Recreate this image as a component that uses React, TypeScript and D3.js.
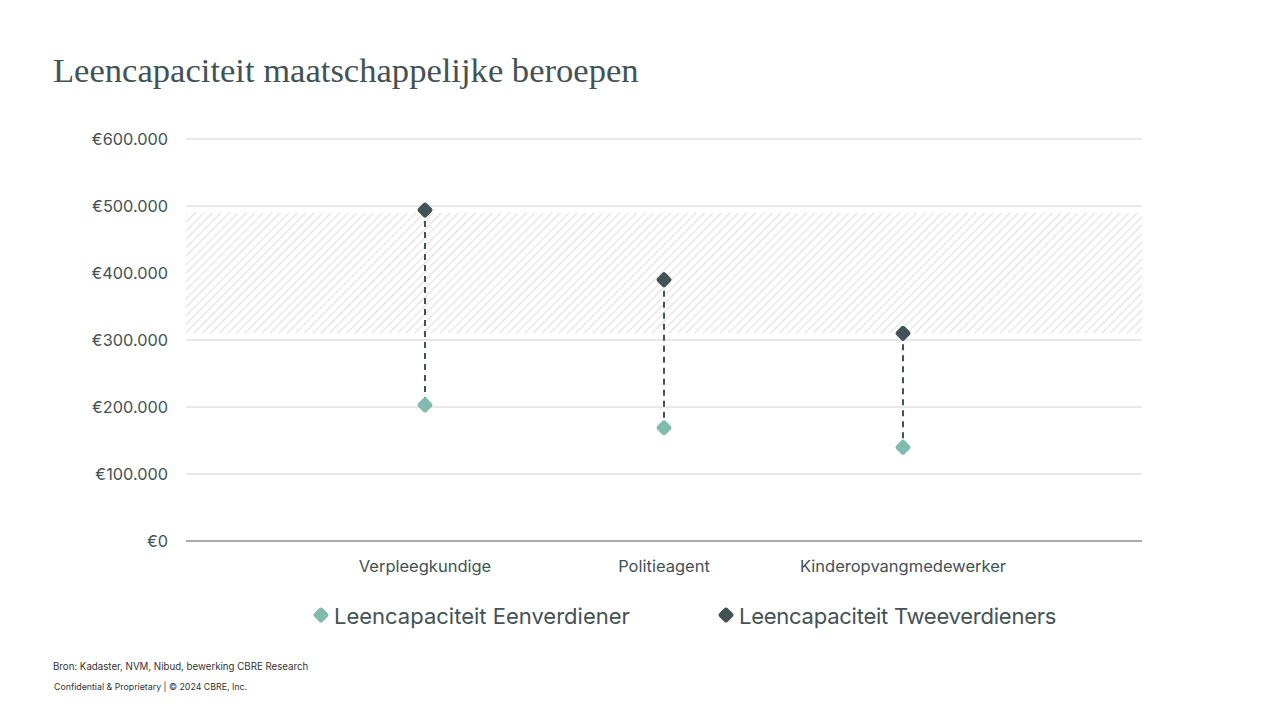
import React from "react";
import * as d3 from "d3";

const categories = ["Verpleegkundige", "Politieagent", "Kinderopvangmedewerker"];
const eenverdiener = [203000, 169000, 140000];
const tweeverdieners = [494000, 390000, 310000];
const yTicks = [0, 100000, 200000, 300000, 400000, 500000, 600000];
const bandRange = [310000, 490000];
const seriesNames = ["Leencapaciteit Eenverdiener", "Leencapaciteit Tweeverdieners"];

const DARK = "#435254";
const LIGHT = "#80BBAD";
const SANS = "Inter, 'Open Sans', sans-serif";

const fmt = (v: number) => "€" + d3.format(",")(v).replace(/,/g, ".");

function Diamond({ x, y, color, size = 17 }: { x: number; y: number; color: string; size?: number }) {
  const h = size / 2;
  return (
    <rect
      x={x - h / Math.SQRT2}
      y={y - h / Math.SQRT2}
      width={h * Math.SQRT2}
      height={h * Math.SQRT2}
      rx={2.5}
      fill={color}
      transform={`rotate(45 ${x} ${y})`}
    />
  );
}

export default function App() {
  const W = 1280, H = 720;
  const left = 186, right = 1142, top = 139, bottom = 541;
  const x = d3.scalePoint<string>().domain(categories).range([left, right]).padding(1);
  const y = d3.scaleLinear().domain([0, 600000]).range([bottom, top]);

  return (
    <svg width={W} height={H} style={{ position: "absolute", left: 0, top: 0, background: "#fff" }}>
      <defs>
        <pattern id="hatch" patternUnits="userSpaceOnUse" width="6" height="6" patternTransform="rotate(45)">
          <rect width="6" height="6" fill="#fff" />
          <line x1="0" y1="0" x2="0" y2="6" stroke="#e2e2e2" strokeWidth="2.5" />
        </pattern>
      </defs>
      <text x={53} y={82} fontFamily="'Liberation Serif', 'DejaVu Serif', serif" fontSize={34.6} fill={DARK}>
        Leencapaciteit maatschappelijke beroepen
      </text>

      {yTicks.map((t) => (
        <g key={t}>
          {t > 0 && <line x1={left} x2={right} y1={y(t)} y2={y(t)} stroke="#d0d0d0" strokeWidth={1} />}
          <text
            x={168}
            y={y(t)}
            dy="0.35em"
            textAnchor="end"
            fontFamily={SANS}
            fontSize={16.3}
            fill={DARK}
          >
            {fmt(t)}
          </text>
        </g>
      ))}

      <rect
        x={left}
        y={y(bandRange[1])}
        width={right - left}
        height={y(bandRange[0]) - y(bandRange[1])}
        fill="url(#hatch)"
      />

      <line x1={left} x2={right} y1={bottom} y2={bottom} stroke="#555" strokeWidth={1} />

      {categories.map((c, i) => (
        <g key={c}>
          <line
            x1={x(c)}
            x2={x(c)}
            y1={y(tweeverdieners[i])}
            y2={y(eenverdiener[i])}
            stroke={DARK}
            strokeWidth={2}
            strokeDasharray="6,5"
          />
          <Diamond x={x(c)!} y={y(eenverdiener[i])} color={LIGHT} />
          <Diamond x={x(c)!} y={y(tweeverdieners[i])} color={DARK} />
          <text x={x(c)} y={572} textAnchor="middle" fontFamily={SANS} fontSize={16.5} fill={DARK}>
            {c}
          </text>
        </g>
      ))}

      <Diamond x={321} y={615} color={LIGHT} />
      <text x={334} y={624} fontFamily={SANS} fontSize={22} fill={DARK}>{seriesNames[0]}</text>
      <Diamond x={726} y={615} color={DARK} />
      <text x={739} y={624} fontFamily={SANS} fontSize={22} fill={DARK} letterSpacing={-0.25}>{seriesNames[1]}</text>

      <text x={53} y={670} fontFamily={SANS} fontSize={9.7} fill="#333">
        Bron: Kadaster,  NVM, Nibud, bewerking CBRE Research
      </text>
      <text x={54} y={690} fontFamily={SANS} fontSize={8.8} fill="#333">
        Confidential &amp; Proprietary | © 2024 CBRE, Inc.
      </text>
    </svg>
  );
}
